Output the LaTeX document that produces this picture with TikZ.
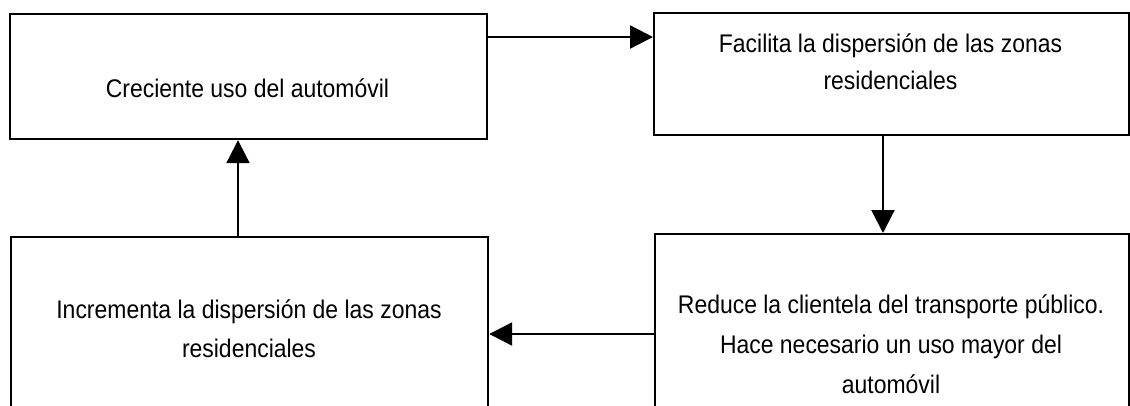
\documentclass[tikz,border=0pt]{standalone}
\usepackage{fontspec}
\setmainfont[FakeStretch=0.9]{Liberation Sans}
\usetikzlibrary{arrows.meta}
\begin{document}
\begin{tikzpicture}[x=1pt,y=-1pt,
  box/.style={draw, line width=2.2pt, rectangle, inner sep=0pt, anchor=north west},
  lbl/.style={font=\fontsize{25.5}{40}\selectfont, align=center, inner sep=0pt, anchor=base},
  arr/.style={line width=2.2pt, -{Triangle[length=23pt,width=23pt]}}]
\useasboundingbox (0,0) rectangle (1130,405);
\fill[white] (0,0) rectangle (1130,405);
% boxes
\node[box, minimum width=477pt, minimum height=125pt] (A) at (9,13) {};
\node[box, minimum width=475pt, minimum height=122pt] (B) at (653,12) {};
\node[box, minimum width=474pt, minimum height=190pt] (C) at (654,233) {};
\node[box, minimum width=477pt, minimum height=190pt] (D) at (10,236) {};
% texts (anchor base = baseline of the last line)
\node[lbl] (ta) at (247.5,97) {Creciente uso del automóvil};
\node[lbl, font=\fontsize{25.5}{37}\selectfont] (tb) at (890.5,89) {Facilita la dispersión de las zonas\\residenciales};
\node[lbl, font=\fontsize{25.5}{40}\selectfont] (tc) at (891,393) {Reduce la clientela del transporte público.\\Hace necesario un uso mayor del\\automóvil};
\node[lbl, font=\fontsize{25.5}{39}\selectfont] (td) at (249,357) {Incrementa la dispersión de las zonas\\residenciales};
% connectors
\coordinate (ab) at ([yshift=-24pt]A.north east);
\coordinate (bc) at ([xshift=230pt]B.south west);
\coordinate (cd) at ([yshift=-101pt]C.north west);
\coordinate (da) at ([xshift=228pt]D.north west);
\draw[arr] (ab) -- (ab -| B.west);
\draw[arr] (bc) -- (bc |- C.north);
\draw[arr] (cd) -- (cd -| D.east);
\draw[arr] (da) -- (da |- A.south);
\end{tikzpicture}
\end{document}
